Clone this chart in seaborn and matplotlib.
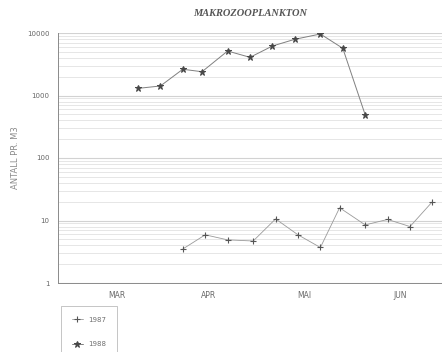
import matplotlib
matplotlib.use("Agg")
import matplotlib.pyplot as plt
import seaborn as sns
import pandas as pd
from matplotlib.ticker import LogLocator, FixedLocator, NullFormatter

# Sampling dates (month-day) and abundance per m3 for each season
dates_1987 = ["04-09", "04-16", "04-23", "05-01", "05-08", "05-15", "05-22",
              "05-28", "06-05", "06-12", "06-19", "06-26"]
vals_1987 = [3.5, 5.9, 4.9, 4.7, 10.6, 5.9, 3.7, 16.0, 8.5, 10.4, 8.0, 20.0]

dates_1988 = ["03-26", "04-02", "04-09", "04-15", "04-23", "04-30", "05-07",
              "05-14", "05-22", "05-29", "06-05"]
vals_1988 = [1300, 1420, 2630, 2400, 5150, 4080, 6190, 7930, 9640, 5690, 490]

month_labels = ["MAR", "APR", "MAI", "JUN"]
y_ticks = [1, 10, 100, 1000, 10000]


def season_day(md):
    d = pd.to_datetime("2001-" + md)
    return (d - pd.Timestamp("2001-03-01")).days


df = pd.concat([
    pd.DataFrame({"dag": [season_day(s) for s in dates_1987],
                  "antall": vals_1987, "aar": "1987"}),
    pd.DataFrame({"dag": [season_day(s) for s in dates_1988],
                  "antall": vals_1988, "aar": "1988"}),
])

sns.set_style("white")
plt.rcParams["font.family"] = ["DejaVu Sans"]

fig = plt.figure(figsize=(4.42, 3.52), dpi=100)
ax = fig.add_axes([58 / 442, 69 / 352, 1 - 58 / 442, 250 / 352])

sns.lineplot(data=df[df.aar == "1987"], x="dag", y="antall", ax=ax,
             color="#9a9a9a", linewidth=0.6, marker="+", markersize=4.5,
             markeredgecolor="#555555", markeredgewidth=0.8, label="1987")
sns.lineplot(data=df[df.aar == "1988"], x="dag", y="antall", ax=ax,
             color="#808080", linewidth=0.7, marker="*", markersize=4.5,
             markerfacecolor="#484848", markeredgecolor="#484848",
             label="1988")

ax.set_yscale("log")
ax.set_ylim(1, 10000)
ax.set_xlim(0, 120)

# horizontal grid at every log step
ax.yaxis.set_major_locator(FixedLocator(y_ticks))
ax.yaxis.set_minor_locator(LogLocator(base=10, subs=range(2, 10)))
ax.yaxis.set_minor_formatter(NullFormatter())
ax.set_yticklabels([str(v) for v in y_ticks])
ax.grid(True, which="major", axis="y", color="#d2d2d2", linewidth=0.8)
ax.grid(True, which="minor", axis="y", color="#e2e2e2", linewidth=0.6)
ax.tick_params(axis="y", which="major", length=4, width=0.6, color="#888888",
               labelsize=5, labelcolor="#666666", direction="out", pad=2)
ax.tick_params(axis="y", which="minor", length=3, width=0.5, color="#aaaaaa",
               direction="in")

# month boundaries as ticks, month names centred between them
ax.xaxis.set_major_locator(FixedLocator([0, 31, 61, 92]))
ax.xaxis.set_minor_locator(FixedLocator([18.5, 47, 77, 107]))
ax.xaxis.set_major_formatter(NullFormatter())
ax.set_xticklabels(month_labels, minor=True)
ax.tick_params(axis="x", which="major", length=3, width=0.6,
               color="#999999", direction="in")
ax.tick_params(axis="x", which="minor", length=0, labelsize=5.5,
               labelcolor="#6a6a6a", pad=6)

for side in ["top", "right"]:
    ax.spines[side].set_visible(False)
for side in ["left", "bottom"]:
    ax.spines[side].set_color("#8a8a8a")
    ax.spines[side].set_linewidth(0.7)

ax.set_xlabel("")
ax.set_ylabel("ANTALL PR. M3", fontsize=6, color="#8a8a8a")
ax.yaxis.set_label_coords(-(58 - 20) / 384, 0.5)
ax.set_title("MAKROZOOPLANKTON", fontsize=7.5, fontweight="bold",
             fontstyle="italic", family="Liberation Serif", color="#555555",
             pad=12)

ax.legend_.remove()
handles, labels = ax.get_legend_handles_labels()
leg = fig.legend(handles, labels, loc="upper left",
                 bbox_to_anchor=(58 / 442, 1 - 303 / 352), fontsize=5,
                 frameon=True, fancybox=False, edgecolor="#aaaaaa",
                 handlelength=1.6, labelspacing=2.6, borderpad=1.5,
                 labelcolor="#707070")
leg.get_frame().set_linewidth(0.6)

fig.savefig("out.png", dpi=100)
